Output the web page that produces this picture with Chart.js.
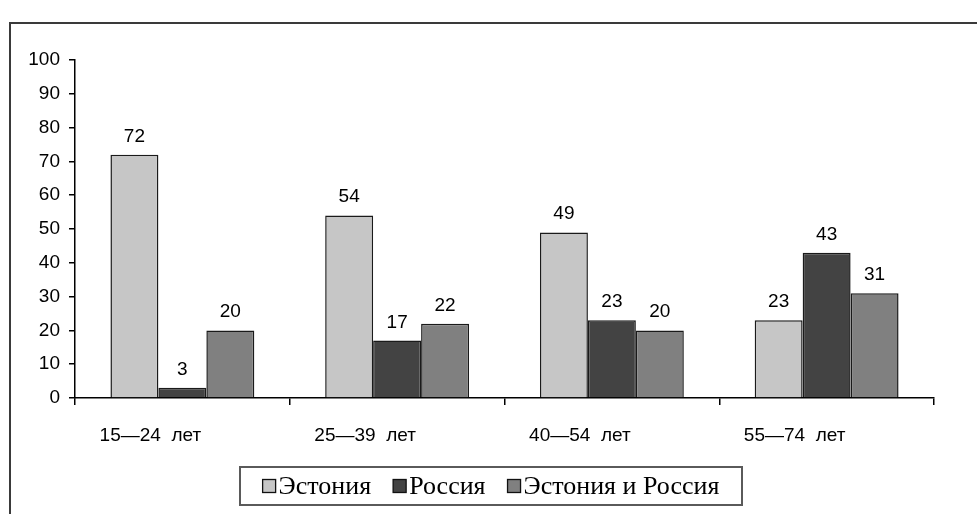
<!DOCTYPE html>
<html>
<head>
<meta charset="utf-8">
<script src="https://cdn.jsdelivr.net/npm/chart.js@4.4.1/dist/chart.umd.min.js"></script>
<style>
html,body{margin:0;padding:0;background:#fff;}
#wrap{position:absolute;left:0;top:0;width:977px;height:514px;}
</style>
</head>
<body>
<div id="wrap"><canvas id="c" width="977" height="514"></canvas></div>
<script>
const categories = ['15\u201424  лет', '25\u201439  лет', '40\u201454  лет', '55\u201474  лет'];
const estonia = [72, 54, 49, 23];
const russia = [3, 17, 23, 43];
const estRus = [20, 22, 20, 31];
const seriesNames = ['Эстония', 'Россия', 'Эстония и Россия'];
const yTicks = [0, 10, 20, 30, 40, 50, 60, 70, 80, 90, 100];

const SANS = '"Liberation Sans", Arial, sans-serif';
const SERIF = '"Liberation Serif", "Times New Roman", serif';

const framePlugin = {
  id: 'frame',
  beforeDraw(chart) {
    const ctx = chart.ctx;
    ctx.save();
    ctx.strokeStyle = '#3a3a3a';
    ctx.lineWidth = 2;
    ctx.beginPath();
    ctx.moveTo(10, 514);
    ctx.lineTo(10, 23);
    ctx.lineTo(977, 23);
    ctx.stroke();
    ctx.restore();
  }
};

const valueLabels = {
  id: 'valueLabels',
  afterDatasetsDraw(chart) {
    const ctx = chart.ctx;
    ctx.save();
    ctx.font = '19px ' + SANS;
    ctx.fillStyle = '#000';
    ctx.textAlign = 'center';
    ctx.textBaseline = 'alphabetic';
    chart.data.datasets.forEach((ds, i) => {
      chart.getDatasetMeta(i).data.forEach((bar, j) => {
        ctx.fillText(String(ds.data[j]), bar.x, bar.y - 13);
      });
    });
    ctx.restore();
  }
};

const boxedLegend = {
  id: 'boxedLegend',
  afterDraw(chart) {
    const ctx = chart.ctx;
    ctx.save();
    ctx.font = '26px ' + SERIF;
    const box = 13, gapBoxText = 3, gapItems = 22;
    const items = chart.data.datasets.map(ds => ({label: ds.label, color: ds.backgroundColor}));
    let total = 0;
    items.forEach((it, i) => {
      it.w = ctx.measureText(it.label).width;
      total += box + gapBoxText + it.w + (i < items.length - 1 ? gapItems : 0);
    });
    const frameL = 240, frameR = 742, frameT = 467, frameB = 505;
    const cy = (frameT + frameB) / 2;
    ctx.strokeStyle = '#5a5a5a';
    ctx.lineWidth = 2;
    ctx.strokeRect(frameL, frameT, frameR - frameL, frameB - frameT);
    let x = (frameL + frameR) / 2 - total / 2;
    ctx.textBaseline = 'middle';
    ctx.textAlign = 'left';
    items.forEach(it => {
      ctx.fillStyle = it.color;
      ctx.fillRect(x, cy - box / 2, box, box);
      ctx.strokeStyle = '#111';
      ctx.lineWidth = 1.3;
      ctx.strokeRect(x, cy - box / 2, box, box);
      x += box + gapBoxText;
      ctx.fillStyle = '#000';
      ctx.fillText(it.label, x, cy + 1);
      x += it.w + gapItems;
    });
    ctx.restore();
  }
};

new Chart(document.getElementById('c'), {
  type: 'bar',
  data: {
    labels: categories,
    datasets: [
      {label: seriesNames[0], data: estonia, backgroundColor: '#c6c6c6', borderColor: '#1a1a1a', borderWidth: 1.5},
      {label: seriesNames[1], data: russia, backgroundColor: '#434343', borderColor: '#1a1a1a', borderWidth: 1.5},
      {label: seriesNames[2], data: estRus, backgroundColor: '#808080', borderColor: '#1a1a1a', borderWidth: 1.5}
    ]
  },
  options: {
    responsive: false,
    animation: false,
    devicePixelRatio: 1,
    layout: {padding: {left: 0, right: 43, top: 60, bottom: 56}},
    datasets: {bar: {categoryPercentage: 0.67, barPercentage: 1.0}},
    plugins: {legend: {display: false}, tooltip: {enabled: false}, title: {display: false}},
    scales: {
      x: {
        grid: {display: true, drawOnChartArea: false, offset: true, tickLength: 7, color: '#000', lineWidth: 1.5},
        border: {display: true, color: '#000', width: 1.5},
        ticks: {font: {family: SANS, size: 19}, color: '#000', padding: 19, labelOffset: -32, maxRotation: 0, autoSkip: false},
        afterFit(scale) { scale.height = 60; }
      },
      y: {
        min: 0, max: 100,
        afterBuildTicks(scale) { scale.ticks = yTicks.map(v => ({value: v})); },
        grid: {display: true, drawOnChartArea: false, tickLength: 6, color: '#000', lineWidth: 1.5},
        border: {display: true, color: '#000', width: 1.5},
        ticks: {font: {family: SANS, size: 19}, color: '#000', padding: 9},
        afterFit(scale) { scale.width = 75; }
      }
    }
  },
  plugins: [framePlugin, valueLabels, boxedLegend]
});
</script>
</body>
</html>
